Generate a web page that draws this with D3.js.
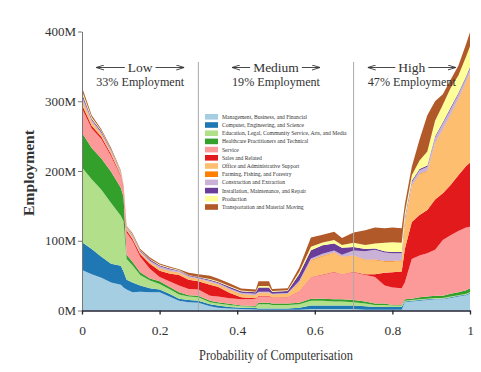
<!DOCTYPE html>
<html>
<head>
<meta charset="utf-8">
<script src="https://cdn.jsdelivr.net/npm/d3@7"></script>
<style>
  body { margin: 0; background: #fff; }
  text { font-family: "Liberation Serif", "Times New Roman", serif; fill: #333; }
</style>
</head>
<body>
<svg id="chart" width="481" height="372"></svg>
<script>
// Employment (millions) stacked by occupation, against probability of computerisation.
const prob = [0, 0.025, 0.05, 0.075, 0.1, 0.107, 0.115, 0.13, 0.15, 0.175, 0.2, 0.225, 0.25, 0.275,
  0.3, 0.33, 0.35, 0.38, 0.41, 0.448, 0.455, 0.482, 0.49, 0.53, 0.56, 0.59, 0.62, 0.65, 0.67, 0.7, 0.73,
  0.755, 0.78, 0.8, 0.824, 0.832, 0.85, 0.87, 0.89, 0.91, 0.93, 0.95, 0.97, 0.99, 1];

const mgmt         = [58, 52, 47, 40, 37, 33, 30, 26, 27, 26, 26, 20, 14, 12, 11, 6, 4, 3, 2, 1.5, 1, 1, 1, 1, 1, 2, 2, 2, 2, 2, 1, 1, 1, 1, 1, 12, 13, 14, 15, 16, 16, 18, 20, 22, 24];
const computer     = [40, 36, 30, 27, 27, 23, 14, 14, 9, 6, 4, 4, 3, 3, 3, 3, 3, 2, 2, 2, 2, 2, 2, 2, 3, 5, 5, 5, 5, 5, 5, 4, 4, 4, 4, 1, 1, 1, 1, 1, 1, 1, 1, 1, 1];
const education    = [107, 100, 96, 87, 72, 72, 30, 25, 15, 11, 8, 7, 6, 5, 5, 3, 3, 3, 2, 2, 6, 6, 5, 5, 5, 7, 7, 6, 6, 5, 4, 3, 3, 2, 2, 1, 1, 1, 1, 1, 1, 1, 1, 1, 1];
const healthcare   = [50, 45, 45, 45, 40, 35, 6, 5, 4, 3, 4, 3, 3, 2, 2, 2, 2, 1.5, 1, 1, 2, 2, 2, 2, 2, 3, 3, 3, 3, 3, 3, 2, 2, 1, 1, 2, 2, 3, 3, 3, 3, 4, 4, 5, 6];
const service      = [35, 28, 28, 22, 16, 12, 32, 30, 22, 14, 6, 8, 10, 9, 9, 7, 8, 8, 9, 10, 9, 9, 8, 9, 16, 31, 34, 39, 36, 40, 38, 38, 26, 25, 24, 24, 57, 60, 62, 66, 80, 84, 88, 90, 88];
const sales        = [5, 4, 3, 3, 2, 2, 3, 3, 4, 7, 9, 11, 15, 13, 12, 16, 14, 8, 3, 1, 1, 1, 0.5, 0.5, 0.5, 0.5, 0.5, 0.5, 0.5, 0.5, 1, 4, 18, 22, 24, 48, 53, 58, 62, 72, 67, 72, 80, 88, 92];
const office       = [6, 4, 3, 2, 2, 1, 2, 2, 2, 2, 3, 3, 3, 3, 3, 3, 3, 4, 4, 4, 4, 4, 4, 4, 12, 23, 26, 27, 24, 23, 20, 20, 16, 15, 15, 37, 51, 58, 55, 80, 91, 100, 108, 120, 128];
const farming      = [2, 1, 1, 1, 0.5, 0.5, 0.5, 0.5, 0.5, 0.5, 0.5, 0.5, 0.5, 0.5, 0.5, 0.5, 0.5, 0.5, 0.5, 0.5, 0.5, 0.5, 0.5, 0.5, 1, 1, 1, 0.5, 0.5, 0.5, 1, 1, 1, 1, 1, 1, 1, 1, 1, 1, 1, 1, 1, 1, 1];
const construction = [4, 3, 2, 2, 1.5, 1, 1, 2, 1.5, 2, 3, 2.5, 2, 2, 1, 2, 2, 2, 2, 2, 1.5, 1.5, 1, 1, 2, 2, 3, 3, 3, 7, 12, 14, 12, 11, 10, 6, 5, 5, 6, 8, 8, 8, 7, 6, 6];
const installation = [4, 2, 2, 1, 1, 0.5, 1, 1, 1, 1.5, 1.5, 1.5, 1, 1, 1, 1.5, 1.5, 2, 2, 2, 6, 6, 3, 3, 10, 12, 12, 10, 10, 5, 3, 2, 2, 2, 2, 2, 2, 2, 2, 2, 2, 2, 2, 2, 2];
const production   = [4, 2, 1, 1, 1, 0.5, 0.5, 1, 0.5, 1, 1, 1, 0.5, 0.5, 0.5, 1, 1, 1, 1, 1, 2, 2, 1, 1, 3, 5, 4, 5, 4, 6, 6, 7, 12, 14, 13, 6, 8, 12, 20, 22, 25, 28, 25, 28, 30];
const transport    = [5, 3, 2, 2, 1, 0.5, 1, 1.5, 1.5, 2, 1.5, 1.5, 1, 3, 4, 5, 4, 4, 3, 3, 7, 7, 3, 3, 6, 13, 11, 12, 10, 15, 21, 23, 21, 21, 21, 12, 12, 30, 52, 28, 15, 12, 14, 18, 20];

const categories = [
  "Management, Business, and Financial",
  "Computer, Engineering, and Science",
  "Education, Legal, Community Service, Arts, and Media",
  "Healthcare Practitioners and Technical",
  "Service",
  "Sales and Related",
  "Office and Administrative Support",
  "Farming, Fishing, and Forestry",
  "Construction and Extraction",
  "Installation, Maintenance, and Repair",
  "Production",
  "Transportation and Material Moving"
];
const colors = ["#a6cee3", "#1f78b4", "#b2df8a", "#33a02c", "#fb9a99", "#e31a1c",
  "#fdbf6f", "#ff7f00", "#cab2d6", "#6a3d9a", "#ffff99", "#b15928"];

const xTicks = [0, 0.2, 0.4, 0.6, 0.8, 1];
const yTicks = [0, 100, 200, 300, 400];
const dividers = [0.3, 0.7];
const bands = [
  { name: "Low", share: "33% Employment", at: 0.15 },
  { name: "Medium", share: "19% Employment", at: 0.5 },
  { name: "High", share: "47% Employment", at: 0.85 }
];

const series = [mgmt, computer, education, healthcare, service, sales, office,
  farming, construction, installation, production, transport];

const rows = prob.map((p, i) => {
  const r = { p };
  categories.forEach((c, k) => { r[c] = series[k][i]; });
  return r;
});

const svg = d3.select("#chart");
const x = d3.scaleLinear().domain([0, 1]).range([82, 470]);
const y = d3.scaleLinear().domain([0, 400]).range([310.5, 31.5]);

const stacked = d3.stack().keys(categories)(rows);
const area = d3.area()
  .x(d => x(d.data.p))
  .y0(d => y(d[0]))
  .y1(d => y(d[1]));

svg.append("g").selectAll("path").data(stacked).join("path")
  .attr("fill", (d, i) => colors[i])
  .attr("d", area);

// band dividers
svg.append("g").selectAll("line").data(dividers).join("line")
  .attr("x1", d => x(d)).attr("x2", d => x(d))
  .attr("y1", 62).attr("y2", y(0))
  .attr("stroke", "#aaa").attr("stroke-width", 1);

// axes
svg.append("g")
  .attr("transform", `translate(${x(0)},0)`)
  .call(d3.axisLeft(y).tickValues(yTicks).tickFormat(d => d + "M").tickSize(4).tickSizeOuter(0).tickPadding(2))
  .call(g => g.select(".domain").attr("stroke", "#777"))
  .call(g => g.selectAll(".tick line").attr("stroke", "#777"))
  .call(g => g.selectAll("text").attr("font-size", 13).attr("fill", "#444")
    .attr("font-family", "Liberation Serif, serif"));

svg.append("g")
  .attr("transform", `translate(0,${y(0)})`)
  .call(d3.axisBottom(x).tickValues(xTicks).tickFormat(d => String(d)).tickSize(4).tickSizeOuter(0).tickPadding(11))
  .call(g => g.select(".domain").attr("stroke", "#223").attr("stroke-width", 1.6))
  .call(g => g.selectAll(".tick line").attr("stroke", "#223").attr("stroke-width", 1.3))
  .call(g => g.selectAll("text").attr("font-size", 13.5).attr("fill", "#444")
    .attr("font-family", "Liberation Serif, serif"));

svg.append("text")
  .attr("x", 276).attr("y", 360)
  .attr("text-anchor", "middle")
  .attr("font-size", 14)
  .attr("textLength", 154).attr("lengthAdjust", "spacingAndGlyphs")
  .attr("fill", "#444")
  .text("Probability of Computerisation");

svg.append("text")
  .attr("transform", "translate(34,173) rotate(-90)")
  .attr("text-anchor", "middle")
  .attr("font-size", 14).attr("font-weight", "bold")
  .attr("textLength", 86).attr("lengthAdjust", "spacingAndGlyphs")
  .attr("fill", "#444")
  .text("Employment");

// band annotations with arrows
svg.append("defs").append("marker")
  .attr("id", "head").attr("viewBox", "0 0 8 6")
  .attr("refX", 8).attr("refY", 3)
  .attr("markerWidth", 8).attr("markerHeight", 6)
  .attr("markerUnits", "userSpaceOnUse")
  .attr("orient", "auto")
  .append("path").attr("d", "M0,0.5L8,3L0,5.5").attr("fill", "none").attr("stroke", "#333").attr("stroke-width", 0.9);

const band = svg.append("g").selectAll("g").data(bands).join("g")
  .attr("transform", d => `translate(${x(d.at)},0)`);

band.append("text")
  .attr("y", 72).attr("text-anchor", "middle").attr("font-size", 13.5)
  .attr("id", (d, i) => "band" + i)
  .text(d => d.name);

band.append("text")
  .attr("y", 85.5).attr("text-anchor", "middle").attr("font-size", 13.5)
  .attr("textLength", 88).attr("lengthAdjust", "spacingAndGlyphs")
  .text(d => d.share);

band.each(function (d, i) {
  const g = d3.select(this);
  const w = document.getElementById("band" + i).getComputedTextLength() / 2;
  [[-w - 3, -44], [w + 3, 44]].forEach(([a, b]) => {
    g.append("line")
      .attr("x1", a).attr("x2", b)
      .attr("y1", 67.5).attr("y2", 67.5)
      .attr("stroke", "#333").attr("stroke-width", 0.9)
      .attr("marker-end", "url(#head)");
  });
});

// legend
const legend = svg.append("g").attr("transform", "translate(205,114)");
const item = legend.selectAll("g").data(categories).join("g")
  .attr("transform", (d, i) => `translate(0,${i * 8.2})`);
item.append("rect")
  .attr("width", 13).attr("height", 5.6)
  .attr("fill", (d, i) => colors[i]);
item.append("text")
  .attr("x", 17).attr("y", 4.8)
  .attr("font-size", 5.6).attr("fill", "#555")
  .text(d => d);
</script>
</body>
</html>
